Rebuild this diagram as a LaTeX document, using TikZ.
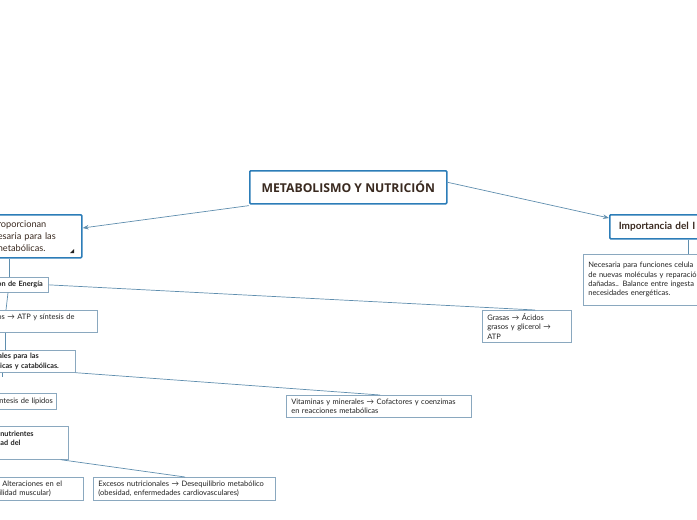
\documentclass[tikz,border=0pt]{standalone}
\usepackage{fontspec}
\setmainfont{Lato}
\newfontfamily\titlefont{Open Sans}
\usetikzlibrary{arrows.meta,calc}
\definecolor{mainblue}{HTML}{2C7DB8}
\definecolor{thinblue}{HTML}{8AA8BF}
\definecolor{linkblue}{HTML}{5F8EAE}
\definecolor{txt}{HTML}{222222}
\definecolor{titletxt}{HTML}{3A2A20}
\tikzset{
  mainbox/.style={draw=mainblue, line width=1.6pt, rounded corners=1pt, fill=white, text=txt, inner sep=0pt},
  subbox/.style={draw=thinblue, line width=0.7pt, fill=white, text=txt, inner sep=0pt},
  small/.style={font=\fontsize{7.5}{9.3}\selectfont, align=left},
  smallbold/.style={font=\fontsize{7.3}{9.5}\selectfont\bfseries, align=left},
  link/.style={draw=linkblue, line width=0.7pt},
  arrowlink/.style={link, -{Stealth[length=6pt,width=4.5pt]}},
}
\begin{document}
\begin{tikzpicture}[x=1pt,y=-1pt]
\useasboundingbox (0,0) rectangle (697,520);
\clip (0,0) rectangle (697,520);
% title
\node[mainbox, minimum width=197pt, minimum height=33pt, anchor=north west,
  font=\titlefont\fontsize{12.2}{14}\selectfont\bfseries, text=titletxt] (title) at (249,170) {METABOLISMO Y NUTRICIÓN};
% left main node
\node[mainbox, minimum width=87pt, minimum height=43pt, anchor=north west,
  text width=87pt, align=left, font=\fontsize{9.2}{12}\selectfont, text=titletxt] (lmain) at (-6,214)
  {\hspace*{3pt}roporcionan\\\hspace*{3pt}esaria para las\\\hspace*{3pt}netabólicas.};
\fill[txt] (74,249) -- (74,253) -- (70,253) -- cycle;
% right main node
\node[mainbox, minimum width=110pt, minimum height=24pt, anchor=north west,
  text width=110pt, align=left, font=\fontsize{10}{11}\selectfont\bfseries, text=titletxt] (rmain) at (609,214)
  {\hspace*{9pt}Importancia del I};
% right sub node
\node[subbox, small, minimum width=130pt, minimum height=51pt, anchor=north west, text width=130pt] (rsub) at (583,254)
  {\hspace*{5pt}Necesaria para funciones celula\\\hspace*{5pt}de nuevas moléculas y reparació\\\hspace*{5pt}dañadas.. Balance entre ingesta\\\hspace*{5pt}necesidades energéticas.};
% energia node
\node[subbox, smallbold, minimum width=54pt, minimum height=15pt, anchor=north west, text width=54pt] (energia) at (-6,277)
  {\hspace*{3pt}on de Energía};
% grasas
\node[subbox, small, minimum width=89pt, minimum height=32pt, anchor=north west, text width=89pt] (grasas) at (482,310)
  {\hspace*{5pt}Grasas → Ácidos\\\hspace*{5pt}grasos y glicerol →\\\hspace*{5pt}ATP};
% ATP node
\node[subbox, small, minimum width=103pt, minimum height=22pt, anchor=north west, text width=103pt] (atp) at (-6,310)
  {\hspace*{3pt}os → ATP y síntesis de\\~};
% esenciales node
\node[subbox, smallbold, minimum width=81pt, minimum height=22pt, anchor=north west, text width=81pt] (esen) at (-6,350)
  {\hspace*{4pt}ales para las\\\hspace*{4pt}licas y catabólicas.};
% vitaminas
\node[subbox, small, minimum width=185pt, minimum height=22pt, anchor=north west, text width=185pt] (vit) at (286,395)
  {\hspace*{5pt}Vitaminas y minerales → Cofactores y coenzimas\\\hspace*{5pt}en reacciones metabólicas};
% lipidos
\node[subbox, small, minimum width=62pt, minimum height=16pt, anchor=north west, text width=62pt] (lip) at (-6,393)
  {\hspace*{5pt}ntesis de lípidos};
% nutrientes
\node[subbox, smallbold, minimum width=74pt, minimum height=33pt, anchor=north west, text width=74pt] (nut) at (-6,426)
  {\hspace*{6pt}nutrientes\\\hspace*{6pt}ad del\\~};
% alteraciones
\node[subbox, small, minimum width=89pt, minimum height=23pt, anchor=north west, text width=89pt] (alt) at (-6,477)
  {\hspace*{8pt}Alteraciones en el\\\hspace*{5pt}ilidad muscular)};
% excesos
\node[subbox, small, minimum width=182pt, minimum height=23pt, anchor=north west, text width=182pt] (exc) at (93,477)
  {\hspace*{5pt}Excesos nutricionales → Desequilibrio metabólico\\\hspace*{5pt}(obesidad, enfermedades cardiovasculares)};
% connectors
\draw[arrowlink] ([yshift=-1pt]title.south west) -- ([yshift=-14pt]lmain.north east);
\draw[arrowlink] ([yshift=5pt]title.east) -- ([yshift=-4pt]rmain.north west);
\draw[link] ([xshift=79pt]rmain.south west) -- ([xshift=105pt]rsub.north west);
\draw[link] ([xshift=15pt]lmain.south west) -- ([xshift=15pt]energia.north west);
\draw[link] (energia.east) -- ([xshift=53pt]grasas.north west);
\draw[link] ([xshift=14pt]energia.south west) -- ([xshift=12pt]atp.north west);
\draw[link] ([xshift=11pt]atp.south west) -- ([xshift=11pt]esen.north west);
\draw[link] (esen.south east) -- ([xshift=94pt]vit.north west);
\draw[link] ([xshift=8pt]esen.south west) -- ++(0,4);
\draw[link] ([xshift=-8pt]nut.south east) -- ([xshift=92pt]exc.north west);
\end{tikzpicture}
\end{document}
